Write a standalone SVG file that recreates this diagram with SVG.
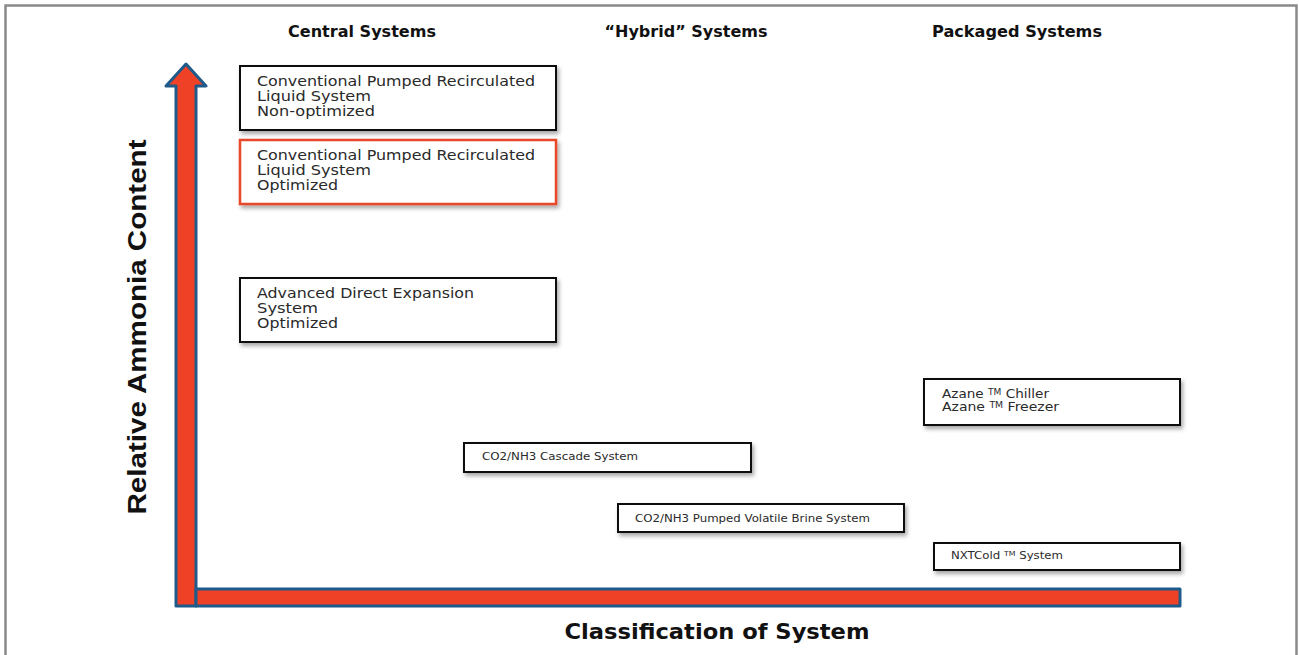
<svg xmlns="http://www.w3.org/2000/svg" width="1299" height="655" viewBox="0 0 1299 655">
<defs>
<filter id="sh" x="-5%" y="-20%" width="112%" height="150%">
<feDropShadow dx="2" dy="3" stdDeviation="2" flood-color="#000" flood-opacity="0.35"/>
</filter>
</defs>
<style>
.box{fill:#fff;stroke:#111;stroke-width:2;filter:url(#sh)}
.boxr{fill:#fff;stroke:#e8472b;stroke-width:2.5;filter:url(#sh)}
.t{font-family:"DejaVu Sans",Verdana,sans-serif;font-size:14px;fill:#2a2a2a}
.ts{font-family:"DejaVu Sans",Verdana,sans-serif;font-size:10.5px;fill:#2a2a2a}
.tm{font-family:"DejaVu Sans",Verdana,sans-serif;font-size:12px;fill:#2a2a2a}
.h{font-family:"DejaVu Sans",Verdana,sans-serif;font-size:15px;font-weight:bold;fill:#111}
.ax{fill:#ee4126;stroke:#1f5b8a;stroke-width:3;stroke-linejoin:round}
</style>
<rect width="1299" height="655" fill="#fff"/>
<path d="M5.5,655 V5.5 H1296.5 V655" fill="none" stroke="#8a8a8a" stroke-width="2.5"/>

<g id="headers">
<text class="h" x="362" y="37" text-anchor="middle" textLength="148" lengthAdjust="spacingAndGlyphs">Central Systems</text>
<text class="h" x="686" y="37" text-anchor="middle" textLength="163" lengthAdjust="spacingAndGlyphs">“Hybrid” Systems</text>
<text class="h" x="1017" y="37" text-anchor="middle" textLength="170" lengthAdjust="spacingAndGlyphs">Packaged Systems</text>
</g>

<g id="axes">
<polygon class="ax" points="176,86 166,86 186,64 206,86 196,86 196,606 176,606"/>
<rect class="ax" x="196" y="589" width="984" height="17"/>
<text x="146" y="327" transform="rotate(-90 146 327)" text-anchor="middle" font-family="'Liberation Sans',Arial,sans-serif" font-weight="bold" font-size="26" fill="#111" textLength="375" lengthAdjust="spacingAndGlyphs">Relative Ammonia Content</text>
<text x="717" y="639" text-anchor="middle" font-family="'DejaVu Sans',Verdana,sans-serif" font-weight="bold" font-size="20.5" fill="#111" textLength="305" lengthAdjust="spacingAndGlyphs">Classification of System</text>
</g>

<g id="node-cprl-nonopt">
<rect class="box" x="240" y="66" width="316" height="64"/>
<text class="t" x="257" y="86" textLength="278" lengthAdjust="spacingAndGlyphs">Conventional Pumped Recirculated</text>
<text class="t" x="257" y="101" textLength="114" lengthAdjust="spacingAndGlyphs">Liquid  System</text>
<text class="t" x="257" y="116" textLength="118" lengthAdjust="spacingAndGlyphs">Non-optimized</text>
</g>

<g id="node-cprl-opt">
<rect class="boxr" x="240" y="140" width="316" height="64"/>
<text class="t" x="257" y="160" textLength="278" lengthAdjust="spacingAndGlyphs">Conventional Pumped Recirculated</text>
<text class="t" x="257" y="175" textLength="114" lengthAdjust="spacingAndGlyphs">Liquid  System</text>
<text class="t" x="257" y="190" textLength="81" lengthAdjust="spacingAndGlyphs">Optimized</text>
</g>

<g id="node-adx">
<rect class="box" x="240" y="278" width="316" height="64"/>
<text class="t" x="257" y="298" textLength="217" lengthAdjust="spacingAndGlyphs">Advanced Direct Expansion</text>
<text class="t" x="257" y="313" textLength="61" lengthAdjust="spacingAndGlyphs">System</text>
<text class="t" x="257" y="328" textLength="81" lengthAdjust="spacingAndGlyphs">Optimized</text>
</g>

<g id="node-cascade">
<rect class="box" x="464" y="443" width="287" height="29"/>
<text class="ts" x="482" y="460" textLength="156" lengthAdjust="spacingAndGlyphs">CO2/NH3 Cascade System</text>
</g>

<g id="node-brine">
<rect class="box" x="618" y="504" width="286" height="28"/>
<text class="ts" x="635" y="522" textLength="235" lengthAdjust="spacingAndGlyphs">CO2/NH3 Pumped Volatile Brine System</text>
</g>

<g id="node-azane">
<rect class="box" x="924" y="379" width="256" height="46"/>
<text class="tm" x="942" y="398" textLength="107" lengthAdjust="spacingAndGlyphs">Azane <tspan font-size="8" dy="-3">TM</tspan><tspan dy="3"> Chiller</tspan></text>
<text class="tm" x="942" y="411" textLength="117" lengthAdjust="spacingAndGlyphs">Azane <tspan font-size="8" dy="-3">TM</tspan><tspan dy="3"> Freezer</tspan></text>
</g>

<g id="node-nxtcold">
<rect class="box" x="934" y="543" width="246" height="27"/>
<text class="ts" x="951" y="559" textLength="112" lengthAdjust="spacingAndGlyphs">NXTCold <tspan font-size="7" dy="-3">TM</tspan><tspan dy="3"> System</tspan></text>
</g>

<g id="connectors"></g>
</svg>
